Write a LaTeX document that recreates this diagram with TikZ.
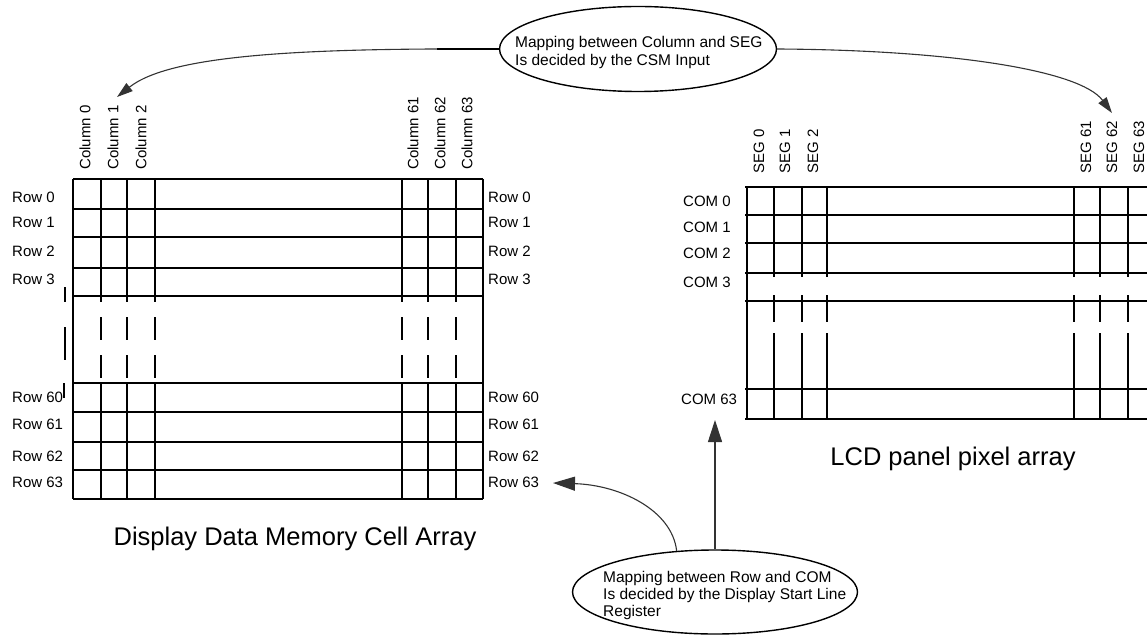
\documentclass[tikz,border=0pt]{standalone}
\usepackage{fontspec}
\setmainfont{Liberation Sans}
\usetikzlibrary{arrows.meta,shapes.geometric}
\begin{document}
\begin{tikzpicture}[x=1pt,y=-1pt,
  grid/.style={line width=1.6pt},
  border/.style={line width=2.6pt},
  tick/.style={line width=1.5pt},
  lbl/.style={inner sep=0pt, anchor=west, font=\fontsize{15}{18}\selectfont},
  vlbl/.style={inner sep=0pt, rotate=90, anchor=west, font=\fontsize{15}{18}\selectfont},
  title/.style={inner sep=0pt, anchor=base, font=\fontsize{25.5}{30}\selectfont},
  bubble/.style={draw, ellipse, line width=1.4pt, inner sep=0pt},
  btext/.style={inner sep=0pt, anchor=west, align=left},
  conn/.style={line width=1.1pt, draw=black!80},
  tipS/.style={-{Triangle[length=16pt,width=10pt]}},
  tipL/.style={-{Triangle[length=22pt,width=14pt]}},
]
\fill[white] (0,0) rectangle (1147,636);
\useasboundingbox (0,0) rectangle (1147,636);

% ---------- left grid: Display Data Memory Cell Array ----------
\foreach \y in {179,209,237,268,296,383,412,442,470,499}
  \draw[grid] (73,\y) -- (483,\y);
\foreach \x in {101,127,155,402,428,456} {
  \draw[grid] (\x,179) -- (\x,302);
  \draw[grid] (\x,317) -- (\x,340);
  \draw[grid] (\x,355) -- (\x,378);
  \draw[grid] (\x,383) -- (\x,499);
}
\draw[border] (73,179) -- (73,499);
\draw[grid] (483,179) -- (483,499);
\draw[tick] (65,287) -- (65,302);
\draw[tick] (65,327) -- (65,360);
\draw[tick] (64,383) -- (64,398);

\node[vlbl] (c0)  at (85,170)  {Column 0};
\node[vlbl] (c1)  at (113,170) {Column 1};
\node[vlbl] (c2)  at (141,170) {Column 2};
\node[vlbl] (c61) at (413,170) {Column 61};
\node[vlbl] (c62) at (440,170) {Column 62};
\node[vlbl] (c63) at (467,170) {Column 63};

\foreach \n/\y in {0/197,1/222,2/251,3/279,60/397,61/424,62/456,63/482} {
  \node[lbl] (rl\n) at (12,\y) {Row \n};
  \node[lbl] (rr\n) at (488,\y) {Row \n};
}

\node[title] (ddm) at (295,545) {Display Data Memory Cell Array};

% ---------- right grid: LCD panel pixel array ----------
\foreach \y in {187,215,243,273,301,389,419}
  \draw[grid] (745,\y) -- (1147,\y);
\foreach \x in {774,802,827,1074,1100,1128} {
  \draw[grid] (\x,187) -- (\x,277);
  \draw[grid] (\x,295) -- (\x,322);
  \draw[grid] (\x,333) -- (\x,419);
}
\draw[grid] (747,187) -- (747,419);

\node[vlbl] (s0)  at (759,174)  {SEG 0};
\node[vlbl] (s1)  at (785,174)  {SEG 1};
\node[vlbl] (s2)  at (813,174)  {SEG 2};
\node[vlbl] (s61) at (1086,174) {SEG 61};
\node[vlbl] (s62) at (1112,174) {SEG 62};
\node[vlbl] (s63) at (1139,174) {SEG 63};

\node[lbl] (com0) at (683,201) {COM 0};
\node[lbl] (com1) at (683,227) {COM 1};
\node[lbl] (com2) at (683,253) {COM 2};
\node[lbl] (com3) at (683,282) {COM 3};
\node[lbl] (com63) at (681,399) {COM 63};

\node[title] (lcd) at (953,465) {LCD panel pixel array};

% ---------- bubbles ----------
\node[bubble, minimum width=277pt, minimum height=85pt] (csm) at (638,49) {};
\node[btext, font=\fontsize{15.5}{18}\selectfont] (csmt) at (515,52)
  {Mapping between Column and SEG\\Is decided by the CSM Input};

\node[bubble, minimum width=285pt, minimum height=84pt] (dsl) at (715,592) {};
\node[btext, font=\fontsize{15.5}{17}\selectfont] (dslt) at (603,595)
  {Mapping between Row and COM\\Is decided by the Display Start Line\\Register};

% ---------- connectors ----------
\coordinate (c1tip) at (117,97);
\coordinate (thk) at (437,49);
\coordinate (s62tip) at (1112,113);
\coordinate (com63tip) at (715,420);
\coordinate (r63tip) at (553,483);

\draw[conn, tipS] (csm.west) .. controls (300,48) and (170,55) .. (c1tip);
\draw[line width=2.6pt] (csm.west) -- (thk);
\draw[conn, tipS] (csm.east) .. controls (950,50) and (1080,70) .. (s62tip);
\draw[conn, tipL] (dsl.north) -- (com63tip);
\draw[conn, tipL] (dsl.133) .. controls (672,510) and (620,485) .. (r63tip);
\end{tikzpicture}
\end{document}
